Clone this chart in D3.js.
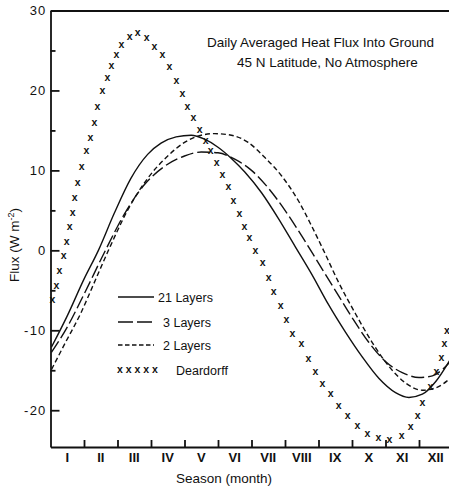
<!DOCTYPE html>
<html><head><meta charset="utf-8">
<script src="https://cdn.jsdelivr.net/npm/d3@7"></script>
<style>
body{margin:0;background:#fff}
svg{display:block}
text{font-family:"Liberation Sans",Arial,sans-serif;fill:#111}
</style>
</head><body>
<svg id="chart" width="449" height="489"></svg>
<script>
// ---------- data ----------
const monthLabels = ["I","II","III","IV","V","VI","VII","VIII","IX","X","XI","XII"];
const yMajorTicks = [30,20,10,0,-10,-20];
const yMinorTicks = [25,15,5,-5,-15];
const monthBoundaries = [1,2,3,4,5,6,7,8,9,10,11];

const title1 = "Daily Averaged Heat Flux Into Ground";
const title2 = "45 N Latitude, No Atmosphere";
const legendLabels = ["21 Layers","3 Layers","2 Layers","Deardorff"];
const markGlyph = "x";

// 21 layers (solid)
const l21Month = [0.03,0.5,1.0,1.43,1.9,2.4,2.9,3.3,3.75,4.2,4.6,5.0,5.4,5.8,6.3,6.8,7.3,7.8,8.3,8.8,9.3,9.8,10.3,10.7,11.1,11.5,11.94];
const l21Flux  = [-12.1,-8.2,-3.6,0,4.6,9.0,12.0,13.4,14.2,14.4,13.9,12.9,11.5,9.8,7.2,4.0,0.5,-3.0,-6.8,-10.2,-13.3,-16.0,-17.8,-18.4,-18.0,-16.4,-13.6];

// 3 layers (long dash)
const l3Month = [0.03,0.5,1.0,1.64,2.2,2.8,3.4,4.0,4.5,5.0,5.5,6.0,6.5,7.0,7.5,8.0,8.5,9.0,9.5,10.0,10.5,11.0,11.4,11.7,11.94];
const l3Flux  = [-12.75,-9.6,-5.5,0,4.5,8.2,10.5,11.8,12.3,12.2,11.4,10.0,7.8,5.0,1.8,-1.6,-5.0,-8.4,-11.5,-13.9,-15.3,-15.9,-15.7,-14.9,-13.9];

// 2 layers (short dash)
const l2Month = [0.03,0.45,0.9,1.3,1.73,2.3,2.9,3.5,4.0,4.5,4.9,5.4,5.9,6.4,6.9,7.4,7.8,8.15,8.6,9.1,9.6,10.1,10.6,11.1,11.5,11.94];
const l2Flux  = [-14.9,-11.5,-7.9,-4.1,0,5.0,9.0,11.8,13.5,14.4,14.6,14.4,13.5,11.6,9.3,6.2,3.0,0,-4.0,-7.9,-11.5,-14.5,-16.6,-17.5,-17.2,-16.0];

// Deardorff (x marks)
const ddMonth = [0.06,0.18,0.27,0.39,0.48,0.57,0.66,0.72,0.81,0.93,1.07,1.19,1.31,1.40,1.55,1.70,1.82,1.97,2.12,2.36,2.60,2.87,3.10,3.34,3.55,3.76,3.94,4.09,4.27,4.45,4.63,4.78,4.96,5.13,5.31,5.46,5.64,5.79,5.94,6.12,6.33,6.51,6.66,6.87,7.04,7.22,7.49,7.70,7.91,8.12,8.36,8.60,8.87,9.16,9.46,9.79,10.12,10.48,10.75,10.96,11.10,11.34,11.52,11.67,11.76,11.83];
const ddFlux  = [-6.25,-4.4,-2.6,-0.75,1.1,3.0,4.75,6.6,8.5,10.4,12.5,14.1,15.9,17.9,19.9,21.6,23.1,24.5,25.75,26.75,27.25,26.6,25.5,24.4,23.0,21.25,19.6,18.0,16.6,15.1,13.75,12.5,11.0,9.4,7.9,6.25,4.6,2.9,1.5,-0.1,-1.6,-3.4,-5.25,-7.0,-8.75,-10.4,-11.75,-13.6,-15.25,-16.75,-18.0,-19.5,-20.75,-22.0,-23.0,-23.5,-23.75,-23.25,-22.1,-20.75,-19.1,-17.1,-15.25,-13.5,-11.75,-10.1];

// ---------- chart ----------
const svg = d3.select("#chart");
const x = d3.scaleLinear().domain([0,12]).range([50.5,452.5]);
const y = d3.scaleLinear().domain([-24.6,30]).range([447,10.5]);
const ink = "#111";

svg.append("defs").append("clipPath").attr("id","plot")
  .append("rect").attr("x",x(0)).attr("y",y(30)).attr("width",x(12)-x(0)).attr("height",y(-24.6)-y(30));

// y axis major
const yAx = svg.append("g").attr("transform",`translate(${x(0)},0)`)
  .call(d3.axisLeft(y).tickValues(yMajorTicks).tickSize(-9).tickSizeOuter(0).tickPadding(4).tickFormat(d=>String(d)));
// y axis minor
svg.append("g").attr("transform",`translate(${x(0)},0)`)
  .call(d3.axisLeft(y).tickValues(yMinorTicks).tickSize(-5).tickSizeOuter(0).tickFormat(""))
  .select(".domain").remove();
// x axis
svg.append("g").attr("transform",`translate(0,${y(-24.6)})`)
  .call(d3.axisBottom(x).tickValues(monthBoundaries).tickSize(-7).tickSizeOuter(0).tickFormat(""));
// top frame
svg.append("g").attr("transform",`translate(0,${y(30)})`)
  .call(d3.axisTop(x).tickValues([]).tickSizeOuter(0));

svg.selectAll(".domain, .tick line").attr("stroke",ink).attr("stroke-width",1.8);
yAx.selectAll(".tick text").attr("font-size",13).attr("letter-spacing",1.2).attr("fill",ink)
  .attr("font-family","Liberation Sans, Arial, sans-serif");

// month labels
svg.append("g").selectAll("text").data(monthLabels).join("text")
  .attr("x",(d,i)=>x(i+0.5)).attr("y",462)
  .attr("text-anchor","middle")
  .attr("font-family","Liberation Serif, serif").attr("font-size",13).attr("font-weight","bold")
  .text(d=>d);

// axis titles
svg.append("text").attr("x",224).attr("y",483).attr("text-anchor","middle").attr("font-size",13.5)
  .text("Season (month)");
const yl = svg.append("text").attr("transform","translate(19,245) rotate(-90)").attr("text-anchor","middle").attr("font-size",13.5);
yl.append("tspan").text("Flux (W m");
yl.append("tspan").attr("dy",-5).attr("font-size",9).text("-2");
yl.append("tspan").attr("dy",5).text(")");

// titles
svg.append("text").attr("x",207).attr("y",47).attr("font-size",13.5).text(title1);
svg.append("text").attr("x",237).attr("y",67).attr("font-size",13.5).text(title2);

// lines
const series = [
  {m:l21Month,f:l21Flux,dash:null},
  {m:l3Month,f:l3Flux,dash:"13,4"},
  {m:l2Month,f:l2Flux,dash:"5,3"}
];
const line = d3.line().x(d=>x(d[0])).y(d=>y(d[1])).curve(d3.curveMonotoneX);
const plot = svg.append("g").attr("clip-path","url(#plot)");
series.forEach(s=>{
  plot.append("path").datum(d3.zip(s.m,s.f)).attr("d",line)
    .attr("fill","none").attr("stroke",ink).attr("stroke-width",1.4)
    .attr("stroke-dasharray",s.dash);
});
// deardorff marks (typed x characters)
svg.append("g").selectAll("text").data(d3.zip(ddMonth,ddFlux)).join("text")
  .attr("x",d=>x(d[0])).attr("y",d=>y(d[1])).attr("dy","0.3em")
  .attr("text-anchor","middle").attr("font-size",10.5).attr("font-weight","bold")
  .text(markGlyph);

// legend
const lg = svg.append("g");
const lgY = [297,322,345,370];
const lgDash = [null,"15,4","4.5,2.5"];
[0,1,2].forEach(i=>{
  lg.append("line").attr("x1",118).attr("x2",154).attr("y1",lgY[i]).attr("y2",lgY[i])
    .attr("stroke",ink).attr("stroke-width",1.4).attr("stroke-dasharray",lgDash[i]);
});
lg.append("text").attr("x",117).attr("y",lgY[3]).attr("dy","0.3em").attr("font-size",10.5).attr("font-weight","bold")
  .text("x x x x x");
const lgX = [158,163,163,176];
legendLabels.forEach((t,i)=>{
  lg.append("text").attr("x",lgX[i]).attr("y",lgY[i]+4.5).attr("font-size",12.5).text(t);
});
</script>
</body></html>
